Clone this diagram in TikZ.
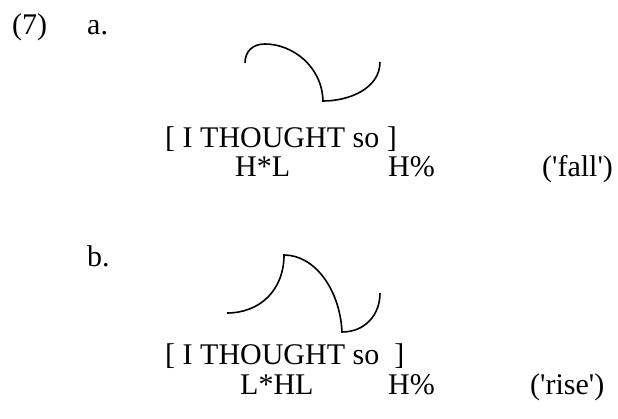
\documentclass[tikz,border=0pt]{standalone}
\usepackage{fontspec}
\setmainfont{Liberation Serif}
\tikzset{
  lbl/.style={anchor=base west, inner sep=0pt, font=\fontsize{30}{36}\selectfont},
  contour/.style={line width=1.6pt, line join=miter}
}
\begin{document}
\begin{tikzpicture}[x=1pt,y=-1pt]
\useasboundingbox (0,0) rectangle (618,419);
% labels
\node[lbl] (num) at (12,35) {(7)};
\node[lbl] (la) at (87,35) {a.};
\node[lbl] (sa) at (165,148) {[ I THOUGHT so ]};
\node[lbl] (ta1) at (235,177) {H*L};
\node[lbl] (ta2) at (388,177) {H\%};
\node[lbl] (ga) at (542,177) {(\textquotesingle fall\textquotesingle)};
\node[lbl] (lb) at (87,267) {b.};
\node[lbl] (sb) at (165,364) {[ I THOUGHT so\ \ ]};
\node[lbl] (tb1) at (240,394) {L*HL};
\node[lbl] (tb2) at (388,394) {H\%};
\node[lbl] (gb) at (530,394) {(\textquotesingle rise\textquotesingle)};
% contour a
\draw[contour] (245,63) .. controls (245,52) and (252,44) .. (265,44)
  .. controls (292,44) and (322,66) .. (323,101)
  .. controls (350,101) and (380,88) .. (380,62);
% contour b
\draw[contour] (227,313) .. controls (260,313) and (284,290) .. (284,255)
  .. controls (315,255) and (340,290) .. (342,332)
  .. controls (365,332) and (380,315) .. (380,293);
\end{tikzpicture}
\end{document}
